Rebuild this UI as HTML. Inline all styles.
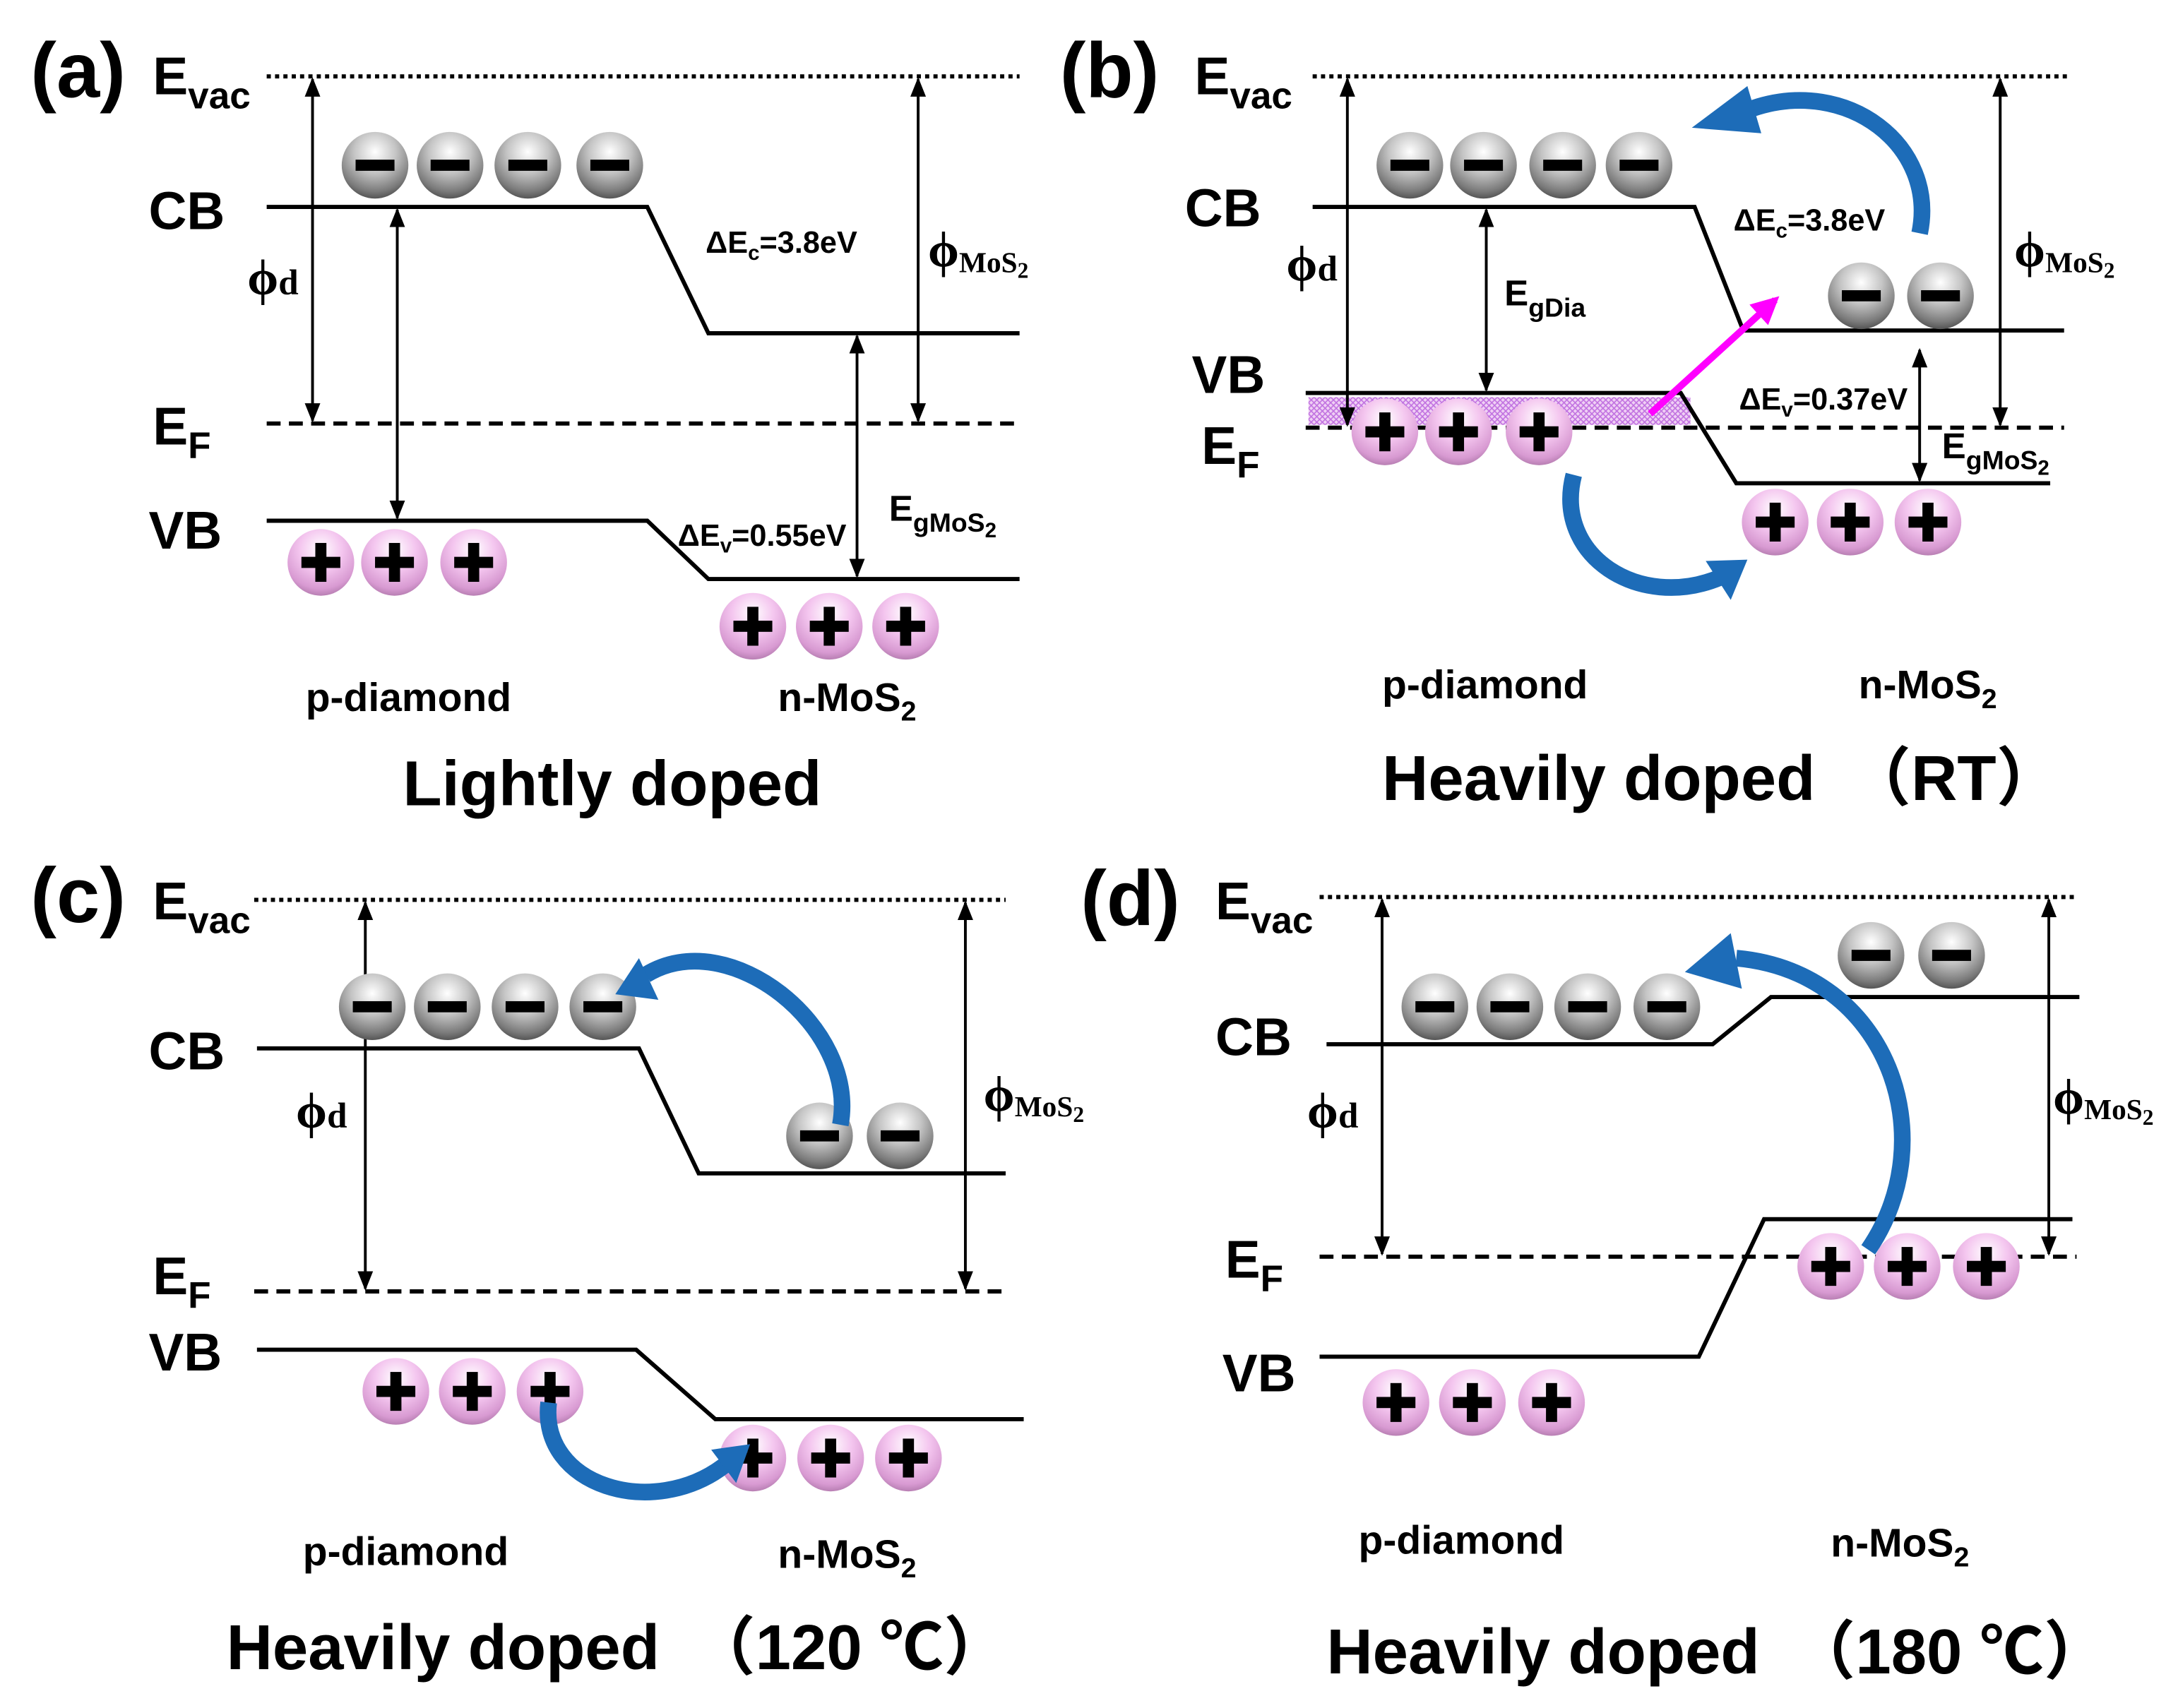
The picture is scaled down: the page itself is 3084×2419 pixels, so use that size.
<!DOCTYPE html>
<html><head><meta charset="utf-8">
<style>
html,body{margin:0;padding:0;background:#fff;}
svg{display:block;}
text{font-family:"Liberation Sans","Noto Sans CJK SC",sans-serif;font-weight:bold;fill:#000;}
.ser{font-family:"Liberation Serif","Noto Serif CJK SC",serif;}
</style></head><body>
<svg width="3084" height="2419" viewBox="0 0 1568 1230" preserveAspectRatio="none" xmlns="http://www.w3.org/2000/svg">
<defs>
<radialGradient id="ge" cx="0.5" cy="0.3" r="0.7">
<stop offset="0" stop-color="#ffffff"/><stop offset="0.45" stop-color="#c4c4c4"/><stop offset="0.85" stop-color="#7a7a7a"/><stop offset="1" stop-color="#555"/>
</radialGradient>
<radialGradient id="gh" cx="0.5" cy="0.3" r="0.7">
<stop offset="0" stop-color="#ffffff"/><stop offset="0.45" stop-color="#f4c6ef"/><stop offset="0.85" stop-color="#d89ad2"/><stop offset="1" stop-color="#b87fb3"/>
</radialGradient>
<pattern id="hatch" width="4" height="4" patternUnits="userSpaceOnUse">
<rect width="4" height="4" fill="#f0d0f5"/><path d="M0,0L4,4M4,0L0,4" stroke="#c070e0" stroke-width="0.8"/>
</pattern>
<g id="el"><circle r="24" fill="url(#ge)"/><rect x="-14" y="-4" width="28" height="8" fill="#000"/></g>
<g id="ho"><circle r="24" fill="url(#gh)"/><rect x="-14" y="-4" width="28" height="8" fill="#000"/><rect x="-4" y="-14" width="8" height="28" fill="#000"/></g>
<marker id="ah" viewBox="0 0 10 10" refX="9" refY="5" markerWidth="7" markerHeight="7" orient="auto-start-reverse"><path d="M0,1L10,5L0,9z" fill="#000"/></marker>
<marker id="mh" viewBox="0 0 10 10" refX="8" refY="5" markerWidth="4" markerHeight="4" orient="auto"><path d="M0,0L10,5L0,10z" fill="#ff00ff"/></marker>
</defs>
<g stroke="#000" stroke-width="3" fill="none">
<line x1="192" y1="55" x2="734" y2="55" stroke-dasharray="3,3"/>
<polyline points="192,149 466,149 510,240 734,240"/>
<line x1="192" y1="305" x2="732" y2="305" stroke-dasharray="10,6"/>
<polyline points="192,375 466,375 510,417 734,417"/>
<line x1="945" y1="55" x2="1488" y2="55" stroke-dasharray="3,3"/>
<polyline points="945,149 1220,149 1255,238 1486,238"/>
<rect x="942" y="286" width="275" height="20" fill="url(#hatch)" stroke="none"/>
<line x1="940" y1="308" x2="1486" y2="308" stroke-dasharray="10,6"/>
<polyline points="940,283 1210,283 1250,348 1476,348"/>
<line x1="183" y1="648" x2="724" y2="648" stroke-dasharray="3,3"/>
<polyline points="185,755 460,755 503,845 724,845"/>
<line x1="183" y1="930" x2="722" y2="930" stroke-dasharray="10,6"/>
<polyline points="185,972 458,972 515,1022 737,1022"/>
<line x1="950" y1="646" x2="1495" y2="646" stroke-dasharray="3,3"/>
<polyline points="955,752 1233,752 1275,718 1497,718"/>
<line x1="950" y1="905" x2="1495" y2="905" stroke-dasharray="10,6"/>
<polyline points="950,977 1223,977 1270,878 1492,878"/>
</g>
<g stroke="#000" stroke-width="2" marker-start="url(#ah)" marker-end="url(#ah)">
<line x1="225" y1="57" x2="225" y2="303"/>
<line x1="286" y1="151" x2="286" y2="373"/>
<line x1="617" y1="242" x2="617" y2="415"/>
<line x1="661" y1="57" x2="661" y2="303"/>
<line x1="970" y1="57" x2="970" y2="306"/>
<line x1="1070" y1="151" x2="1070" y2="281"/>
<line x1="1382" y1="252" x2="1382" y2="346"/>
<line x1="1440" y1="57" x2="1440" y2="306"/>
<line x1="263" y1="650" x2="263" y2="928"/>
<line x1="695" y1="650" x2="695" y2="928"/>
<line x1="995" y1="648" x2="995" y2="903"/>
<line x1="1475" y1="648" x2="1475" y2="903"/>
</g>
<line x1="1188" y1="298" x2="1278" y2="216" stroke="#ff00ff" stroke-width="5" marker-end="url(#mh)"/>
<use href="#el" x="270" y="119"/><use href="#el" x="324" y="119"/><use href="#el" x="380" y="119"/><use href="#el" x="439" y="119"/>
<use href="#ho" x="231" y="405"/><use href="#ho" x="284" y="405"/><use href="#ho" x="341" y="405"/>
<use href="#ho" x="542" y="451"/><use href="#ho" x="597" y="451"/><use href="#ho" x="652" y="451"/>
<use href="#el" x="1015" y="119"/><use href="#el" x="1068" y="119"/><use href="#el" x="1125" y="119"/><use href="#el" x="1180" y="119"/>
<use href="#el" x="1340" y="213"/><use href="#el" x="1397" y="213"/>
<use href="#ho" x="997" y="311"/><use href="#ho" x="1050" y="311"/><use href="#ho" x="1108" y="311"/>
<use href="#ho" x="1278" y="376"/><use href="#ho" x="1332" y="376"/><use href="#ho" x="1388" y="376"/>
<use href="#el" x="268" y="725"/><use href="#el" x="322" y="725"/><use href="#el" x="378" y="725"/><use href="#el" x="434" y="725"/>
<use href="#el" x="590" y="818"/><use href="#el" x="648" y="818"/>
<use href="#ho" x="285" y="1002"/><use href="#ho" x="340" y="1002"/><use href="#ho" x="396" y="1002"/>
<use href="#ho" x="542" y="1050"/><use href="#ho" x="598" y="1050"/><use href="#ho" x="654" y="1050"/>
<use href="#el" x="1033" y="725"/><use href="#el" x="1087" y="725"/><use href="#el" x="1143" y="725"/><use href="#el" x="1200" y="725"/>
<use href="#el" x="1347" y="688"/><use href="#el" x="1405" y="688"/>
<use href="#ho" x="1318" y="912"/><use href="#ho" x="1373" y="912"/><use href="#ho" x="1430" y="912"/>
<use href="#ho" x="1005" y="1010"/><use href="#ho" x="1060" y="1010"/><use href="#ho" x="1117" y="1010"/>
<g fill="none" stroke="#1d6cb8" stroke-width="12">
<path d="M1382,168 C1395,105 1330,55 1262,78"/>
<path d="M1133,342 C1118,400 1180,440 1238,416"/>
<path d="M605,810 C618,740 525,665 465,702"/>
<path d="M395,1010 C388,1070 470,1095 522,1055"/>
<path d="M1345,900 C1400,820 1360,700 1250,690"/>
</g>
<g fill="#1d6cb8">
<polygon points="1218,92 1258,62 1268,96"/>
<polygon points="1258,403 1228,404 1246,432"/>
<polygon points="443,716 460,690 474,720"/>
<polygon points="540,1040 512,1044 530,1068"/>
<polygon points="1213,700 1246,672 1254,712"/>
</g>
<g font-size="56">
<text x="22" y="70">(a)</text><text x="763" y="70">(b)</text>
<text x="22" y="664">(c)</text><text x="778" y="666">(d)</text>
</g>
<g font-size="38">
<text x="110" y="68">E<tspan font-size="27" dy="10">vac</tspan></text>
<text x="107" y="165">CB</text>
<text x="110" y="320">E<tspan font-size="27" dy="10">F</tspan></text>
<text x="107" y="395">VB</text>
<text x="860" y="68">E<tspan font-size="27" dy="10">vac</tspan></text>
<text x="853" y="163">CB</text>
<text x="858" y="283">VB</text>
<text x="865" y="334">E<tspan font-size="27" dy="10">F</tspan></text>
<text x="110" y="662">E<tspan font-size="27" dy="10">vac</tspan></text>
<text x="107" y="770">CB</text>
<text x="110" y="932">E<tspan font-size="27" dy="10">F</tspan></text>
<text x="107" y="987">VB</text>
<text x="875" y="662">E<tspan font-size="27" dy="10">vac</tspan></text>
<text x="875" y="760">CB</text>
<text x="882" y="920">E<tspan font-size="27" dy="10">F</tspan></text>
<text x="880" y="1002">VB</text>
</g>
<g>
<text class="ser" font-size="36" x="178" y="212">ϕ<tspan font-size="26">d</tspan></text>
<text class="ser" font-size="36" x="668" y="192">ϕ<tspan font-size="21" dy="4">MoS</tspan><tspan font-size="16" dy="4">2</tspan></text>
<text class="ser" font-size="36" x="926" y="202">ϕ<tspan font-size="26">d</tspan></text>
<text class="ser" font-size="36" x="1450" y="192">ϕ<tspan font-size="21" dy="4">MoS</tspan><tspan font-size="16" dy="4">2</tspan></text>
<text class="ser" font-size="36" x="213" y="812">ϕ<tspan font-size="26">d</tspan></text>
<text class="ser" font-size="36" x="708" y="800">ϕ<tspan font-size="21" dy="4">MoS</tspan><tspan font-size="16" dy="4">2</tspan></text>
<text class="ser" font-size="36" x="941" y="812">ϕ<tspan font-size="26">d</tspan></text>
<text class="ser" font-size="36" x="1478" y="802">ϕ<tspan font-size="21" dy="4">MoS</tspan><tspan font-size="16" dy="4">2</tspan></text>
</g>
<g font-size="22">
<text x="508" y="182">ΔE<tspan font-size="15" dy="5">c</tspan><tspan dy="-5">=3.8eV</tspan></text>
<text x="488" y="393">ΔE<tspan font-size="15" dy="5">v</tspan><tspan dy="-5">=0.55eV</tspan></text>
<text x="1248" y="166">ΔE<tspan font-size="15" dy="5">c</tspan><tspan dy="-5">=3.8eV</tspan></text>
<text x="1252" y="295">ΔE<tspan font-size="15" dy="5">v</tspan><tspan dy="-5">=0.37eV</tspan></text>
</g>
<g font-size="26">
<text x="640" y="375">E<tspan font-size="19" dy="8">gMoS</tspan><tspan font-size="15" dy="4">2</tspan></text>
<text x="1083" y="220">E<tspan font-size="19" dy="8">gDia</tspan></text>
<text x="1398" y="330">E<tspan font-size="19" dy="8">gMoS</tspan><tspan font-size="15" dy="4">2</tspan></text>
</g>
<g font-size="29">
<text x="220" y="512">p-diamond</text><text x="560" y="512">n-MoS<tspan font-size="20" dy="7">2</tspan></text>
<text x="995" y="503">p-diamond</text><text x="1338" y="503">n-MoS<tspan font-size="20" dy="7">2</tspan></text>
<text x="218" y="1127">p-diamond</text><text x="560" y="1129">n-MoS<tspan font-size="20" dy="7">2</tspan></text>
<text x="978" y="1119">p-diamond</text><text x="1318" y="1121">n-MoS<tspan font-size="20" dy="7">2</tspan></text>
</g>
<g font-size="46">
<text x="290" y="580">Lightly doped</text>
<text x="995" y="576">Heavily doped　（RT）</text>
<text x="163" y="1202">Heavily doped　（120 ℃）</text>
<text x="955" y="1205">Heavily doped　（180 ℃）</text>
</g>
</svg>
</body></html>
